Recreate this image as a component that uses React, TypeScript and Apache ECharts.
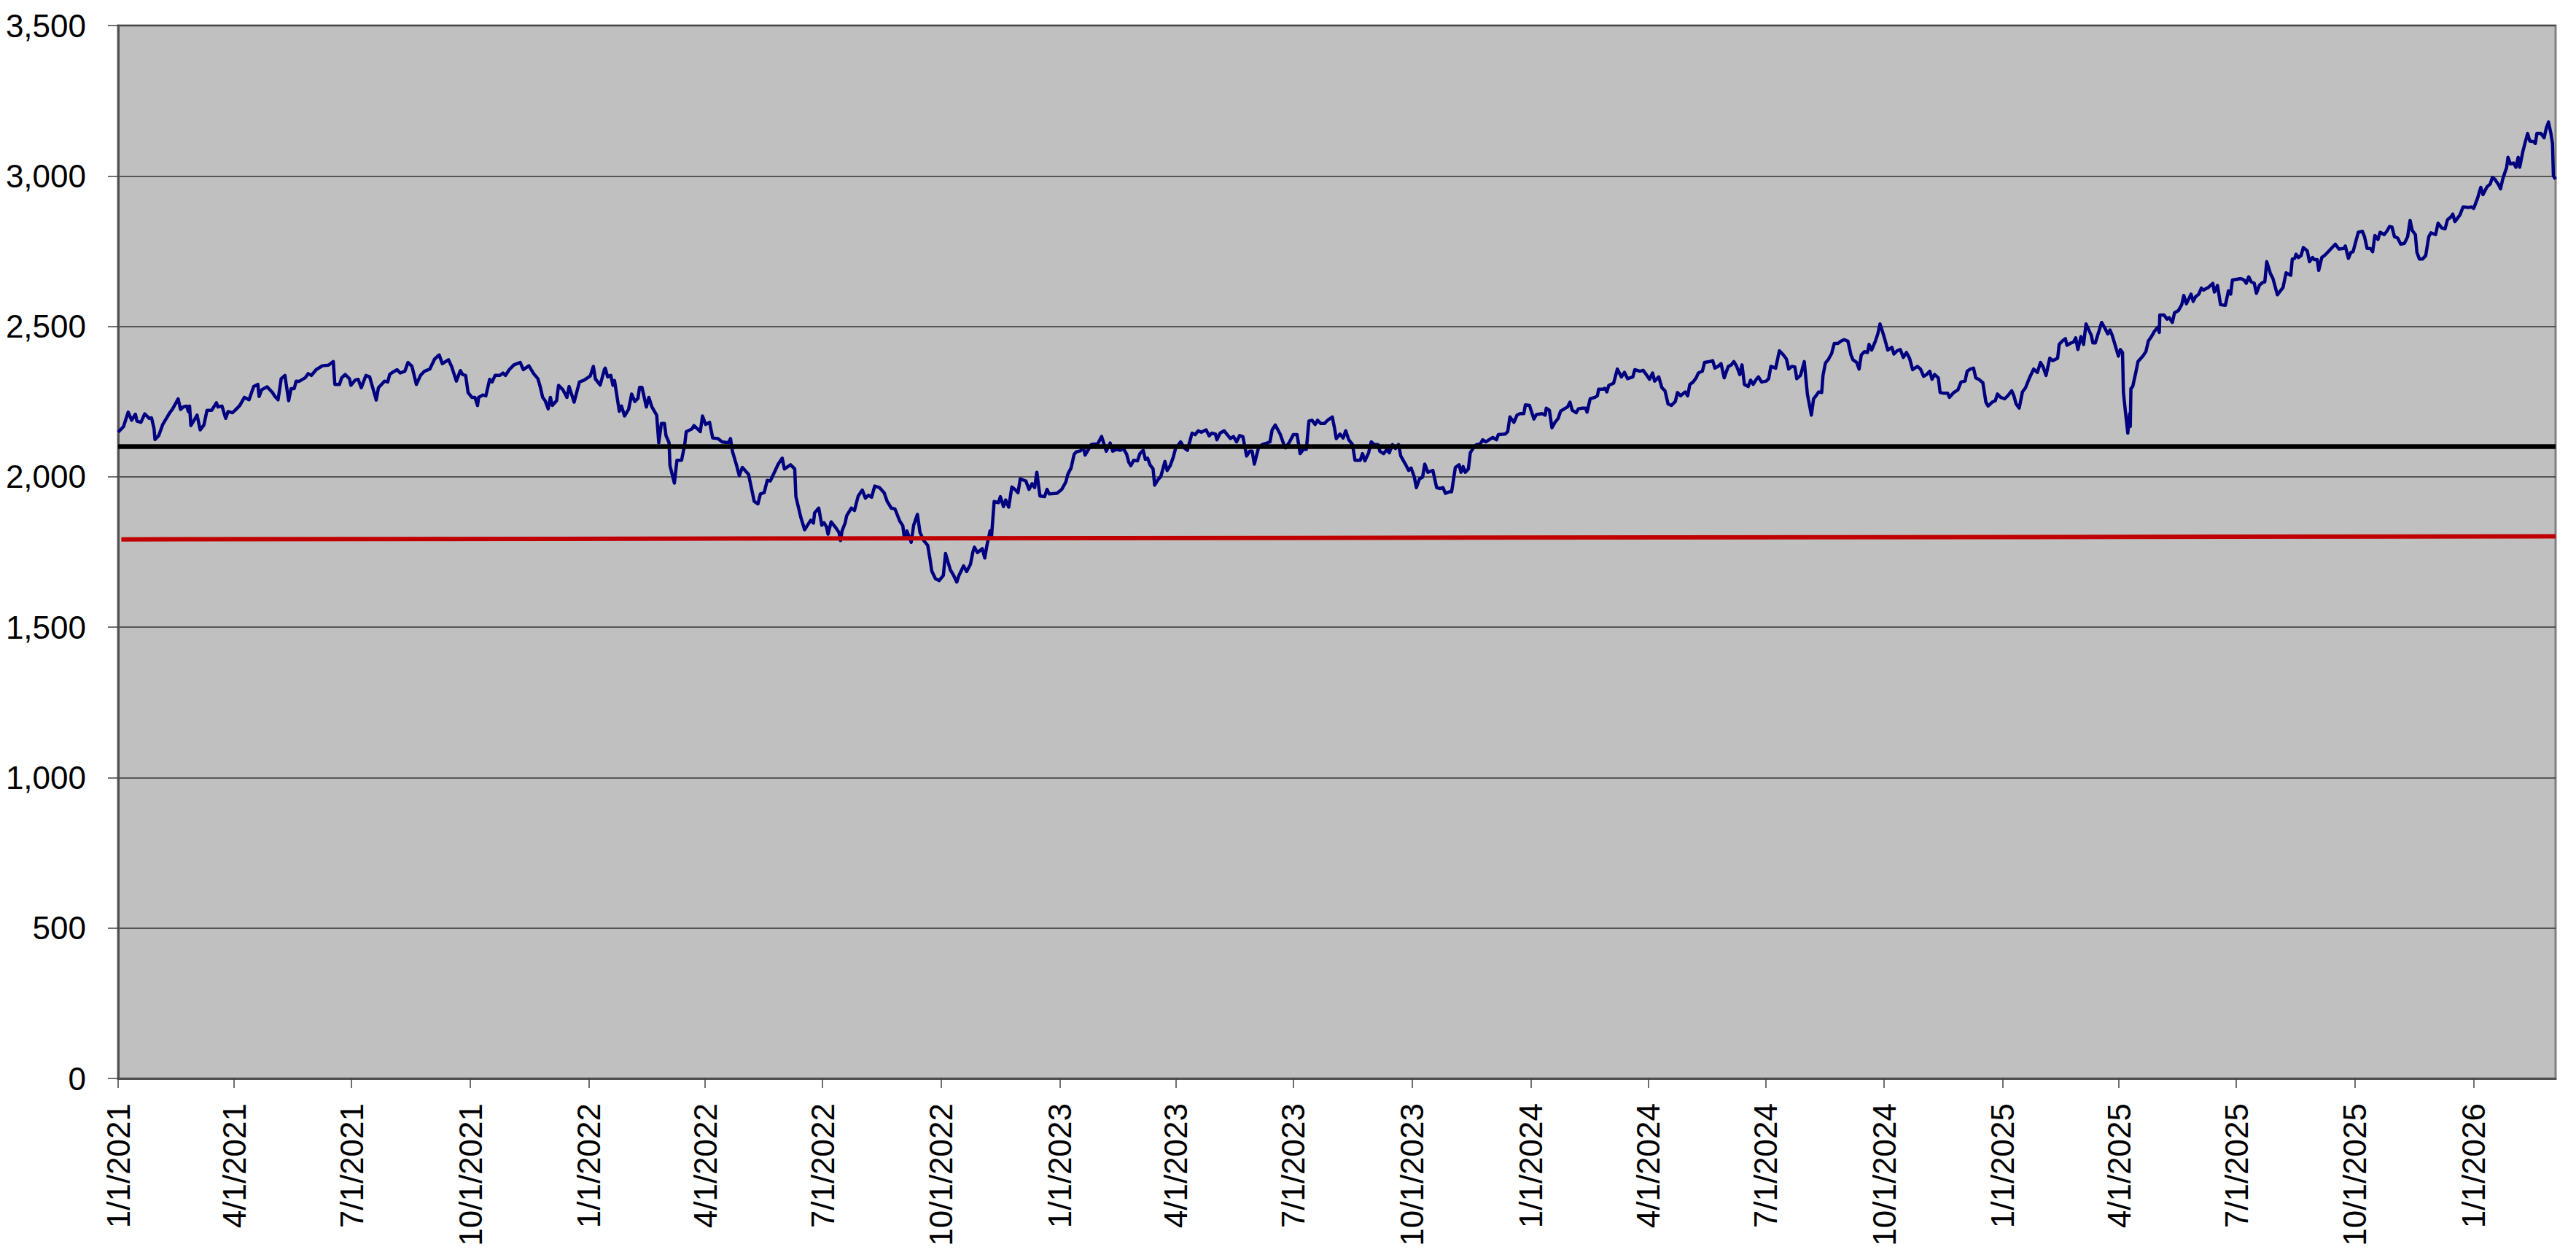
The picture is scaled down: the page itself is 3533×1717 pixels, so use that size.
import React, { useEffect, useRef } from "react";
import * as echarts from "echarts";

// x values are day offsets from 1/1/2021, y values are index levels
const segmentA: [number, number][] = [
  [0, 2148], [4.2, 2167], [7.8, 2215], [10.5, 2188], [13.4, 2208], [14.6, 2185], [17.7, 2181], [20.6, 2209], [24.2, 2194], [25.9, 2196],
  [27.8, 2161], [28.6, 2124], [31.5, 2137], [34.6, 2174], [39.9, 2212], [42.3, 2226], [46.5, 2259], [48.4, 2224], [50.8, 2233], [53.2, 2235],
  [54.4, 2217], [55.4, 2235], [56.4, 2170], [61.2, 2205], [63.6, 2156], [66.5, 2172], [68.9, 2221], [72.5, 2221], [76.2, 2246], [77.4, 2232],
  [80.5, 2235], [83.4, 2194], [85.3, 2217], [88.7, 2213], [90.7, 2221], [94.3, 2237], [97.9, 2264], [101.5, 2256], [105.1, 2300], [108.3, 2307],
  [109.3, 2267], [111.2, 2289], [115.5, 2299], [119.6, 2280], [121.6, 2267], [124, 2256], [126.4, 2326], [129.3, 2337], [132.2, 2253], [134.1, 2293],
  [136.5, 2293], [138, 2318], [140.2, 2317], [145, 2329], [147.4, 2343], [149.8, 2337], [153.5, 2356], [158.3, 2369], [163.1, 2371], [166.8, 2383],
  [168, 2307], [171.6, 2307], [173.3, 2329], [176, 2340], [179.3, 2326], [180.5, 2304], [183.7, 2321], [186.1, 2324], [188.5, 2296], [192.1, 2337],
  [195, 2332], [197, 2302], [200.1, 2255], [201.8, 2296], [206.6, 2318], [209, 2315], [210.5, 2340], [212.6, 2347], [216.3, 2356], [218.7, 2345],
  [222.3, 2351], [224.7, 2380], [227.8, 2367], [231.2, 2307], [234.4, 2337], [237.5, 2351], [241.6, 2358], [245.3, 2391], [248.9, 2405], [251.3, 2376],
  [256.1, 2389], [258.5, 2367], [262.2, 2318], [265.3, 2353], [267, 2340], [269.4, 2337], [271.3, 2280], [274.2, 2264], [276.6, 2264], [278.6, 2237],
  [279.5, 2264], [282.7, 2272], [285.1, 2269], [288, 2324], [289.9, 2315], [292.3, 2337], [296, 2337], [298.4, 2345], [300.3, 2337], [303.2, 2356],
  [306.8, 2372], [311.7, 2380], [314.1, 2356], [318.4, 2369], [322.1, 2343], [325.4, 2326], [327.4, 2296], [329.1, 2264], [331, 2253], [333.4, 2226],
  [335.1, 2264], [336.6, 2237], [339.9, 2253], [341.4, 2304], [344.8, 2289], [347.9, 2264], [349.6, 2300], [353.5, 2248], [357.6, 2315], [361.2, 2321],
  [366, 2335], [368.4, 2367], [370, 2325], [373.7, 2305], [376.9, 2356],
];

const segmentB: [number, number][] = [
  [377.6, 2361], [379.5, 2332], [381.9, 2337], [383.6, 2304], [384.8, 2320], [388.5, 2218], [390.2, 2235], [392.6, 2202], [395.7, 2224], [398.1, 2275],
  [400.5, 2250], [403, 2261], [404.2, 2297], [406.1, 2297], [409.5, 2232], [411.4, 2264], [413.8, 2232], [417.5, 2205], [419.1, 2113], [421.1, 2177],
  [423.5, 2177], [424.7, 2137], [427.1, 2113], [427.8, 2037], [431.2, 1979], [433.2, 2055], [436.8, 2055], [439.2, 2107], [440.4, 2150], [444.8, 2159],
  [446.4, 2170], [451.3, 2150], [453, 2202], [455.4, 2174], [458.5, 2181], [460.9, 2129], [465, 2127], [468.2, 2116], [473, 2113], [474.7, 2127],
  [476.2, 2085], [479.5, 2037], [481.5, 2004], [483.9, 2031], [488.7, 2008], [493.1, 1918], [496, 1910], [497.9, 1943], [500.8, 1947], [503.2, 1988],
  [505.6, 1986], [508, 2008], [511.7, 2042], [514.8, 2062], [516.5, 2026], [521.3, 2040], [524.5, 2026], [525.4, 1934], [529.3, 1864], [532.2, 1824],
  [534.1, 1837], [537, 1856], [539, 1846], [539.9, 1880], [543.1, 1896], [545.5, 1839], [547.2, 1847], [549.1, 1834], [550.3, 1809], [552.7, 1850],
  [556.3, 1831], [558.8, 1815], [560, 1788], [561.2, 1820], [563.6, 1847], [564.8, 1871], [568.4, 1896], [570.8, 1888], [573.7, 1936], [576.9, 1956],
  [579.3, 1929], [581.7, 1939], [584.1, 1932], [586.5, 1969], [590.2, 1964], [593.8, 1947], [596.2, 1918], [599.3, 1896], [602.2, 1893], [605.9, 1853],
  [608.3, 1837], [609.5, 1795], [611.4, 1820], [614.8, 1782], [616.7, 1839], [619.6, 1875], [621.6, 1815], [624.5, 1788], [627.6, 1772], [629.3, 1728],
  [630.7, 1687], [633.6, 1661], [636.5, 1655], [639.7, 1672], [641.4, 1745], [643.3, 1717], [645.2, 1690], [647.7, 1672], [650.1, 1650], [651.8, 1672],
  [655.4, 1704], [657.8, 1685], [660.7, 1709], [662.6, 1750], [663.8, 1766], [666.2, 1748], [669.9, 1761], [671.8, 1730], [673.5, 1772], [675.9, 1820],
  [677.1, 1804], [679.1, 1918], [682.4, 1914], [683.9, 1934], [686.3, 1901], [688, 1923], [690.4, 1899], [692.8, 1966], [695.2, 1958], [697.6, 1947],
  [699.3, 1993], [703.7, 1986], [706.1, 1958], [708.5, 1977], [710.5, 1964], [712.2, 2015], [714.6, 1936], [718.2, 1934], [720.1, 1958], [721.8, 1943],
  [727.8, 1945], [731.5, 1958], [734.6, 1982], [736.3, 2009], [738.7, 2029], [741.1, 2075], [742.8, 2083], [745.9, 2086], [748.4, 2096], [749.6, 2072],
  [754.4, 2107],
];

const segmentC: [number, number][] = [
  [756.4, 2109], [759.3, 2109], [762.4, 2134], [766, 2085], [769, 2112], [771, 2085], [773.8, 2091], [777, 2088], [779.3, 2094], [781.8, 2075],
  [783.5, 2048], [785, 2037], [787.3, 2055], [790.2, 2053], [792.1, 2077], [794.6, 2088], [796.3, 2058], [798, 2062], [799.9, 2040], [802.3, 2026],
  [803.5, 1972], [806, 1990], [808.3, 2001], [811.5, 2051], [813.2, 2021], [815.6, 2037], [818, 2066], [819.7, 2094], [823.6, 2116], [826.4, 2096],
  [828.9, 2088], [832.5, 2145], [834.9, 2140], [837.3, 2153], [839.7, 2148], [843.4, 2156], [845.8, 2136], [847.7, 2145], [850.6, 2142], [851.8, 2123],
  [854.2, 2145], [857.4, 2153], [859.8, 2140], [862.2, 2127], [864.6, 2134], [867, 2116], [869.4, 2137], [871.9, 2134], [874.8, 2069], [877.2, 2085],
  [879.1, 2085], [880.8, 2042], [884, 2096], [886.8, 2107], [890.5, 2112], [892.9, 2116], [894.6, 2156], [897, 2172], [900.8, 2142], [903.3, 2112],
  [905, 2096], [908.1, 2116], [911, 2140], [913.9, 2140], [916.3, 2077], [918.7, 2091], [921.1, 2091], [923.1, 2185], [925.5, 2188], [927.9, 2174],
  [929.8, 2188], [932.3, 2177], [935.1, 2177], [937.6, 2188], [941.2, 2199], [942.9, 2163], [944.3, 2127], [947.2, 2142], [949.6, 2129], [951.6, 2153],
  [954, 2123], [956.9, 2107], [958.8, 2055], [962.9, 2055], [964.6, 2077], [966.5, 2053], [969.4, 2080], [971.4, 2116], [973.8, 2107], [976.7, 2107],
  [978.1, 2085], [981, 2077], [983.5, 2091], [985.4, 2080], [987.8, 2107], [990.2, 2094], [992.6, 2107], [994.3, 2069], [997.9, 2042], [1000.4, 2021],
  [1002.3, 2029], [1004.7, 2001], [1006.4, 1964], [1008.8, 1993], [1011.2, 1999], [1012.9, 2042], [1015.3, 2015], [1019.2, 2021], [1022.1, 1964], [1025, 1961],
  [1027, 1964], [1028.9, 1945], [1031.8, 1950], [1033.7, 1950], [1036.6, 2031], [1039.5, 2040], [1041, 2015], [1042.6, 2034], [1044.3, 2015], [1046.7, 2026],
  [1048.2, 2080], [1050.6, 2096], [1053, 2107], [1055.9, 2109], [1057.8, 2123], [1060.3, 2116], [1062.7, 2123], [1065.6, 2131], [1068.5, 2123], [1069.9, 2140],
  [1075.2, 2142], [1077.2, 2150], [1078.9, 2199], [1082, 2181], [1084.4, 2205], [1086.8, 2210], [1089.7, 2210], [1090.9, 2239], [1094.1, 2237], [1097.5, 2192],
  [1099.4, 2207], [1103.8, 2210], [1106.2, 2205], [1107.1, 2228], [1109.5, 2221], [1111.5, 2163], [1113.9, 2181], [1116.3, 2194], [1118.2, 2218], [1121.1, 2226],
  [1123.6, 2232], [1125.5, 2248], [1127.2, 2221], [1130.3, 2213], [1132, 2226],
];

const segmentD: [number, number][] = [
  [1135.1, 2228], [1137.5, 2228], [1138.7, 2215], [1141.1, 2259], [1144.8, 2264], [1146.7, 2269], [1147.7, 2291], [1150.8, 2291], [1152.5, 2294], [1154, 2282],
  [1155.6, 2304], [1159.3, 2311], [1162.2, 2358], [1165.3, 2332], [1167.7, 2347], [1170.1, 2326], [1174.2, 2332], [1175.7, 2356], [1179.8, 2351], [1182.2, 2354],
  [1184.6, 2340], [1187.1, 2324], [1189.5, 2345], [1191.1, 2318], [1194.3, 2332], [1196.7, 2296], [1199.1, 2286], [1201.5, 2242], [1204, 2237], [1207.1, 2250],
  [1208.8, 2280], [1211.2, 2269], [1214.8, 2282], [1216.7, 2269], [1218.4, 2307], [1220.9, 2315], [1223.3, 2329], [1225, 2345], [1228.1, 2351], [1229.8, 2380],
  [1234.1, 2383], [1236.1, 2386], [1237.8, 2361], [1240.2, 2367], [1242.6, 2376], [1245, 2329], [1248.2, 2367], [1250.6, 2372], [1252.5, 2383], [1254.7, 2367],
  [1257.1, 2340], [1258.8, 2372], [1260.7, 2307], [1263.6, 2300], [1265.5, 2321], [1267.5, 2307], [1269.9, 2324], [1271.6, 2332], [1274, 2315], [1277.6, 2318],
  [1279.5, 2326], [1281.2, 2367], [1284.9, 2361], [1287.8, 2419], [1290.9, 2405], [1293.3, 2391], [1295, 2358], [1297.4, 2367], [1299.8, 2365], [1301.3, 2326],
  [1304.2, 2337], [1307.1, 2383], [1309.5, 2275], [1312.6, 2205], [1314.3, 2259], [1316.7, 2272], [1318.2, 2282], [1320.6, 2280], [1321.6, 2337], [1323.5, 2378],
  [1325.9, 2391], [1328.3, 2410], [1330.3, 2443], [1333.2, 2443], [1335.6, 2451], [1338, 2456], [1340.9, 2451], [1343.3, 2405], [1344.8, 2389], [1347.7, 2380],
  [1349.6, 2358], [1351.3, 2405], [1353.7, 2416], [1356.1, 2413], [1357.3, 2440], [1359.3, 2421], [1362.2, 2451], [1364.1, 2475], [1365.8, 2508], [1367.5, 2486],
  [1369.4, 2459], [1371.8, 2421], [1375, 2430], [1376.6, 2408], [1379.1, 2419], [1381.5, 2423], [1383.9, 2397], [1386.3, 2413], [1388.7, 2394], [1391.1, 2356],
  [1394.8, 2367], [1397.2, 2358], [1399.6, 2334], [1402, 2340], [1404.4, 2351], [1406.1, 2324], [1408.1, 2340], [1411, 2329], [1412.4, 2280], [1414.8, 2278],
  [1418.2, 2278], [1419.6, 2264], [1423, 2280], [1426.2, 2289], [1428.6, 2315], [1431.7, 2318], [1433.4, 2351], [1435.8, 2358], [1438.3, 2361], [1440, 2329],
  [1442.4, 2324], [1445.5, 2313], [1447.9, 2248], [1449.6, 2235], [1452.7, 2248], [1455.2, 2253], [1456.8, 2275], [1459.3, 2264], [1462.4, 2259], [1464.8, 2269],
  [1467.9, 2286], [1469.6, 2269], [1471.3, 2242], [1473.7, 2228], [1476.2, 2282], [1478.6, 2296], [1481.7, 2329], [1484.9, 2358], [1487.8, 2347], [1490.2, 2380],
  [1492.1, 2367], [1494.5, 2337], [1497.4, 2394], [1499.8, 2386], [1503.5, 2394], [1504.7, 2440], [1507.1, 2451], [1509.5, 2459], [1510.7, 2437],
];

const segmentE: [number, number][] = [
  [1513.9, 2445], [1515.8, 2448], [1517.5, 2462], [1519.2, 2423], [1521.6, 2466], [1523.6, 2440], [1525.5, 2508], [1527.9, 2486], [1529.6, 2470], [1530.8, 2445],
  [1532.7, 2445], [1537.6, 2513], [1540, 2495], [1542.4, 2475], [1544.1, 2488], [1545.8, 2470], [1547.7, 2443], [1550.6, 2401], [1552.1, 2423], [1553.8, 2413],
  [1554.5, 2280], [1556.2, 2210], [1557.9, 2145], [1559.3, 2210], [1559.8, 2167], [1560.3, 2293], [1561.7, 2300], [1564.1, 2347], [1565.8, 2383], [1569.5, 2401],
  [1571.9, 2416], [1573.8, 2451], [1576.2, 2466], [1578.6, 2484], [1581.1, 2497], [1582.3, 2480], [1582.7, 2538], [1585.9, 2538], [1588.3, 2524], [1590, 2529],
  [1592.4, 2513], [1594.1, 2545], [1597.2, 2553], [1599.7, 2572], [1601.3, 2603], [1603.3, 2575], [1606.9, 2607], [1608.6, 2583], [1610.5, 2599], [1612.9, 2607],
  [1614.9, 2627], [1616.6, 2621], [1620.2, 2629], [1623.8, 2643], [1625, 2614], [1627.4, 2636], [1629.8, 2572], [1633.5, 2570], [1635.9, 2618], [1637.6, 2607],
  [1639, 2654], [1643.1, 2657], [1645.5, 2659], [1648, 2654], [1649.7, 2643], [1651.6, 2665], [1653.5, 2648], [1655.9, 2643], [1657.6, 2610], [1660, 2637],
  [1662.5, 2646], [1664.1, 2648], [1665.6, 2715], [1668.5, 2675], [1670.4, 2659], [1673.8, 2605], [1678.2, 2629], [1680.6, 2678], [1684.2, 2670], [1685.4, 2724],
  [1687.3, 2726], [1688.3, 2740], [1690.2, 2729], [1692.2, 2735], [1693.9, 2762], [1697, 2751], [1698.7, 2715], [1701.1, 2729], [1702.3, 2722], [1704.7, 2722],
  [1705.9, 2686], [1708.3, 2729], [1710.8, 2737], [1713.9, 2751], [1715.6, 2759], [1718.7, 2773], [1721.6, 2757], [1725.3, 2759], [1726.5, 2767], [1728.9, 2726],
  [1730.8, 2746], [1732.5, 2748], [1734.9, 2787], [1736.6, 2813], [1739.7, 2816], [1741.4, 2798], [1743.4, 2759], [1745.8, 2759], [1747.7, 2748], [1749.4, 2802],
  [1751.8, 2789], [1753.5, 2813], [1756.7, 2805], [1759.1, 2819], [1760.8, 2832], [1762.7, 2830], [1764.6, 2798], [1767, 2794], [1769.5, 2773], [1772.3, 2776],
  [1774.8, 2798], [1776.7, 2852], [1778.4, 2819], [1780.8, 2805], [1782, 2746], [1783.9, 2724], [1786.4, 2724], [1788.8, 2735], [1791.2, 2798], [1792.9, 2811],
  [1796.5, 2805], [1798.4, 2843], [1801.3, 2827], [1803.8, 2824], [1805.7, 2854], [1808.6, 2865], [1809.8, 2873], [1811.5, 2848], [1815.3, 2870], [1817.8, 2897],
  [1821.9, 2895], [1824.3, 2897], [1826, 2892], [1829.1, 2927], [1831.5, 2962], [1833.2, 2938], [1836.4, 2964], [1838.8, 2973], [1840.5, 2995], [1842.4, 2989],
  [1845.3, 2971], [1846.8, 2957], [1848.5, 2989], [1851.6, 3029], [1852.6, 3062], [1854.5, 3040], [1856.9, 3043], [1858.8, 3029], [1860.5, 3062], [1861.7, 3029],
  [1864.1, 3081], [1866.1, 3114], [1867.8, 3141], [1869.5, 3116], [1872.6, 3114], [1873.8, 3108], [1875, 3141], [1878.2, 3141], [1880.6, 3127], [1882.3, 3159],
  [1884, 3179], [1885.9, 3141], [1887.1, 3108], [1887.8, 3000], [1889.5, 2989],
];

const blackLevel: [number, number][] = [[0, 2100], [1889.5, 2100]];
const redLevel: [number, number][] = [[2.5, 1792], [1889.5, 1802]];

const tickLabels = [
  "1/1/2021", "4/1/2021", "7/1/2021", "10/1/2021",
  "1/1/2022", "4/1/2022", "7/1/2022", "10/1/2022",
  "1/1/2023", "4/1/2023", "7/1/2023", "10/1/2023",
  "1/1/2024", "4/1/2024", "7/1/2024", "10/1/2024",
  "1/1/2025", "4/1/2025", "7/1/2025", "10/1/2025",
  "1/1/2026",
];

const axisEndDay = 1889.5;
const yMin = 0;
const yMax = 3500;
const yStep = 500;

const DAY = 86400000;
const START = Date.UTC(2021, 0, 1);
const toTs = (d: number) => START + d * DAY;
const parseLabel = (s: string) => {
  const [m, d, y] = s.split("/").map(Number);
  return Date.UTC(y, m - 1, d);
};
const toPoints = (arr: [number, number][]) => arr.map(([d, v]) => [toTs(d), v]);

const FONT = "'Liberation Sans', Arial, Helvetica, sans-serif";

export default function App() {
  const ref = useRef<HTMLDivElement>(null);
  useEffect(() => {
    if (!ref.current) return;
    const chart = echarts.init(ref.current, undefined, { renderer: "svg" });
    const tickTs = tickLabels.map(parseLabel);
    const labelFor = (v: number) => {
      const i = tickTs.findIndex((t) => Math.abs(t - v) < DAY / 2);
      if (i >= 0) return tickLabels[i];
      const d = new Date(v);
      return `${d.getUTCMonth() + 1}/${d.getUTCDate()}/${d.getUTCFullYear()}`;
    };
    const lineData = [
      ...toPoints(segmentA),
      ...toPoints(segmentB),
      ...toPoints(segmentC),
      ...toPoints(segmentD),
      ...toPoints(segmentE),
    ];
    chart.setOption({
      animation: false,
      backgroundColor: "#ffffff",
      grid: {
        left: 162,
        right: 28,
        top: 35,
        bottom: 238,
        containLabel: false,
        outerBoundsMode: "none",
        show: true,
        backgroundColor: "#C0C0C0",
        borderColor: "#808080",
        borderWidth: 3,
      },
      xAxis: {
        type: "value",
        min: toTs(0),
        max: toTs(axisEndDay),
        scale: true,
        splitLine: { show: false },
        axisLine: { show: true, onZero: false, lineStyle: { color: "#505050", width: 3 } },
        axisTick: {
          show: true,
          length: 13,
          customValues: tickTs,
          lineStyle: { color: "#404040", width: 1.5 },
        },
        axisLabel: {
          customValues: tickTs,
          rotate: 90,
          margin: 34,
          fontSize: 44,
          fontFamily: FONT,
          color: "#000",
          showMinLabel: true,
          showMaxLabel: true,
          formatter: (v: number) => labelFor(v),
        },
      },
      yAxis: {
        type: "value",
        min: yMin,
        max: yMax,
        interval: yStep,
        axisLine: { show: true, lineStyle: { color: "#505050", width: 3 } },
        axisTick: { show: true, length: 14, lineStyle: { color: "#404040", width: 1.5 } },
        splitLine: { show: true, lineStyle: { color: "#333333", width: 1.5 } },
        axisLabel: {
          margin: 44,
          fontSize: 44,
          fontFamily: FONT,
          color: "#000",
          formatter: (v: number) => v.toLocaleString("en-US"),
        },
      },
      series: [
        {
          type: "line",
          data: lineData,
          showSymbol: false,
          symbol: "none",
          lineStyle: { color: "#000080", width: 4.5, join: "round" },
          z: 2,
        },
        {
          type: "line",
          data: toPoints(blackLevel),
          showSymbol: false,
          symbol: "none",
          lineStyle: { color: "#000000", width: 6.5 },
          z: 3,
        },
        {
          type: "line",
          data: toPoints(redLevel),
          showSymbol: false,
          symbol: "none",
          lineStyle: { color: "#C00000", width: 6 },
          z: 4,
        },
      ],
    });
    return () => chart.dispose();
  }, []);
  return (
    <div
      ref={ref}
      style={{ position: "fixed", left: 0, top: 0, width: 3533, height: 1717, background: "#fff" }}
    />
  );
}
